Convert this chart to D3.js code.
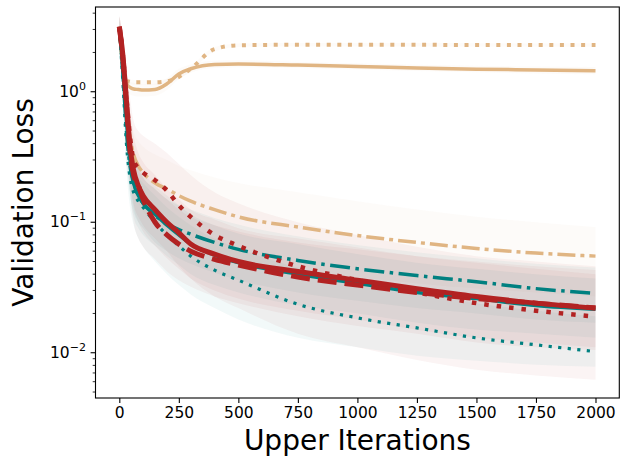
<!DOCTYPE html>
<html>
<head>
<meta charset="utf-8">
<script src="https://cdn.jsdelivr.net/npm/d3@7"></script>
<style>
  body { margin: 0; background: #fff; }
  svg { display: block; font-family: "DejaVu Sans", sans-serif; }
</style>
</head>
<body>
<svg id="chart" width="621" height="459"></svg>
<script>
// iterations where every curve is sampled
var iters = [0, 15, 30, 45, 60, 80, 100, 150, 200, 250, 300, 400, 500, 750, 1000, 1250, 1500, 1750, 2000];

// mean validation loss per run
var tanSolid   = [3.1, 1.6, 1.15, 1.08, 1.05, 1.04, 1.03, 1.04, 1.15, 1.37, 1.5, 1.62, 1.63, 1.6, 1.56, 1.52, 1.49, 1.47, 1.45];
var tanDotted  = [3.1, 1.7, 1.22, 1.19, 1.18, 1.18, 1.18, 1.18, 1.2, 1.3, 1.5, 2.12, 2.27, 2.29, 2.29, 2.29, 2.28, 2.28, 2.28];
var tanDashDot = [3.1, 1.5, 0.75, 0.45, 0.33, 0.27, 0.24, 0.2, 0.18, 0.16, 0.145, 0.125, 0.11, 0.092, 0.079, 0.07, 0.063, 0.058, 0.055];
var tealSolid  = [3.1, 1.5, 0.6, 0.3, 0.2, 0.16, 0.14, 0.115, 0.095, 0.08, 0.068, 0.056, 0.049, 0.04, 0.034, 0.029, 0.026, 0.023, 0.0215];
var tealDashDot= [3.1, 1.4, 0.5, 0.27, 0.2, 0.16, 0.14, 0.113, 0.097, 0.088, 0.081, 0.07, 0.062, 0.051, 0.044, 0.039, 0.035, 0.031, 0.0285];
var tealDotted = [3.1, 1.2, 0.4, 0.22, 0.17, 0.145, 0.13, 0.1, 0.08, 0.066, 0.055, 0.043, 0.036, 0.0235, 0.0185, 0.0155, 0.013, 0.0115, 0.0102];
var redSolid   = [3.15, 1.9, 0.85, 0.38, 0.25, 0.19, 0.16, 0.125, 0.1, 0.083, 0.068, 0.057, 0.05, 0.042, 0.036, 0.031, 0.027, 0.024, 0.022];
var redDotted  = [3.15, 1.9, 0.9, 0.45, 0.3, 0.26, 0.24, 0.21, 0.175, 0.135, 0.11, 0.08, 0.066, 0.046, 0.036, 0.029, 0.024, 0.021, 0.0189];
var redDashed  = [3.15, 1.8, 0.8, 0.35, 0.23, 0.19, 0.15, 0.1, 0.08, 0.068, 0.06, 0.052, 0.047, 0.038, 0.033, 0.029, 0.026, 0.024, 0.022];

// shaded spread (lower / upper) per run
var tanSolidLo   = [2.6, 1.3, 1.0, 0.95, 0.93, 0.92, 0.92, 0.93, 1.03, 1.25, 1.4, 1.52, 1.54, 1.52, 1.48, 1.44, 1.41, 1.38, 1.36];
var tanSolidHi   = [3.6, 1.9, 1.3, 1.2, 1.17, 1.15, 1.14, 1.15, 1.27, 1.5, 1.62, 1.73, 1.74, 1.69, 1.65, 1.61, 1.58, 1.56, 1.55];
var tanDottedLo  = [2.9, 1.6, 1.17, 1.14, 1.13, 1.13, 1.13, 1.13, 1.15, 1.25, 1.44, 2.03, 2.2, 2.22, 2.22, 2.22, 2.21, 2.21, 2.21];
var tanDottedHi  = [3.3, 1.8, 1.27, 1.24, 1.23, 1.23, 1.23, 1.23, 1.25, 1.35, 1.56, 2.2, 2.34, 2.36, 2.36, 2.36, 2.35, 2.35, 2.35];
var tanDashDotLo = [2.5, 1.0, 0.45, 0.25, 0.18, 0.14, 0.12, 0.1, 0.085, 0.075, 0.068, 0.058, 0.052, 0.043, 0.038, 0.034, 0.031, 0.029, 0.027];
var tanDashDotHi = [3.8, 2.0, 1.1, 0.7, 0.5, 0.42, 0.38, 0.33, 0.3, 0.27, 0.25, 0.22, 0.2, 0.17, 0.145, 0.125, 0.11, 0.1, 0.092];
var tealSolidLo  = [2.5, 1.0, 0.35, 0.17, 0.11, 0.09, 0.08, 0.066, 0.055, 0.047, 0.04, 0.033, 0.029, 0.023, 0.02, 0.017, 0.015, 0.014, 0.013];
var tealSolidHi  = [3.8, 2.1, 0.95, 0.5, 0.34, 0.27, 0.24, 0.19, 0.16, 0.135, 0.115, 0.095, 0.082, 0.068, 0.057, 0.049, 0.044, 0.04, 0.037];
var tealDashDotLo= [2.5, 0.9, 0.3, 0.16, 0.12, 0.1, 0.09, 0.07, 0.06, 0.053, 0.048, 0.041, 0.036, 0.029, 0.025, 0.022, 0.02, 0.018, 0.017];
var tealDashDotHi= [3.8, 2.0, 0.8, 0.42, 0.32, 0.26, 0.22, 0.18, 0.15, 0.135, 0.125, 0.108, 0.096, 0.078, 0.067, 0.059, 0.053, 0.048, 0.045];
var tealDottedLo = [2.5, 0.8, 0.25, 0.13, 0.095, 0.075, 0.065, 0.05, 0.04, 0.033, 0.028, 0.022, 0.018, 0.013, 0.011, 0.0095, 0.0087, 0.0081, 0.0078];
var tealDottedHi = [3.8, 1.8, 0.6, 0.33, 0.26, 0.22, 0.2, 0.16, 0.13, 0.11, 0.095, 0.075, 0.063, 0.045, 0.035, 0.029, 0.024, 0.021, 0.019];
var redSolidLo   = [2.6, 1.3, 0.5, 0.2, 0.13, 0.1, 0.085, 0.066, 0.053, 0.044, 0.037, 0.03, 0.026, 0.021, 0.018, 0.015, 0.013, 0.012, 0.011];
var redSolidHi   = [3.8, 2.7, 1.4, 0.7, 0.46, 0.34, 0.29, 0.23, 0.18, 0.15, 0.125, 0.105, 0.09, 0.075, 0.064, 0.055, 0.049, 0.044, 0.04];
var redDottedLo  = [2.6, 1.3, 0.5, 0.22, 0.14, 0.11, 0.095, 0.075, 0.06, 0.046, 0.037, 0.027, 0.022, 0.014, 0.011, 0.0088, 0.0074, 0.0067, 0.0062];
var redDottedHi  = [3.8, 2.7, 1.6, 0.9, 0.6, 0.5, 0.46, 0.4, 0.34, 0.28, 0.23, 0.17, 0.14, 0.1, 0.08, 0.065, 0.055, 0.05, 0.046];
var redDashedLo  = [2.6, 1.2, 0.45, 0.17, 0.1, 0.075, 0.065, 0.052, 0.042, 0.036, 0.032, 0.027, 0.024, 0.019, 0.016, 0.014, 0.012, 0.011, 0.0105];
var redDashedHi  = [3.8, 2.6, 1.3, 0.65, 0.38, 0.26, 0.22, 0.18, 0.15, 0.125, 0.11, 0.095, 0.085, 0.07, 0.062, 0.055, 0.05, 0.046, 0.043];

var xTicks = [0, 250, 500, 750, 1000, 1250, 1500, 1750, 2000];
var yTicks = [0.01, 0.1, 1];
var yTickExp = ["\u22122", "\u22121", "0"];

var tan = "#e0b583", teal = "#008080", red = "#b22222";

// draw order: bands, then lines (red on top)
var runs = [
    {v: tanSolid,    lo: tanSolidLo,    hi: tanSolidHi,    color: tan,  width: 3.5, dash: null},
    {v: tanDotted,   lo: tanDottedLo,   hi: tanDottedHi,   color: tan,  width: 4,   dash: "4,6.6"},
    {v: tanDashDot,  lo: tanDashDotLo,  hi: tanDashDotHi,  color: tan,  width: 3.5, dash: "18,5,4,5"},
    {v: tealSolid,   lo: tealSolidLo,   hi: tealSolidHi,   color: teal, width: 3.5, dash: null},
    {v: tealDashDot, lo: tealDashDotLo, hi: tealDashDotHi, color: teal, width: 3.5, dash: "20,5.5,3.5,5.5"},
    {v: tealDotted,  lo: tealDottedLo,  hi: tealDottedHi,  color: teal, width: 3.2, dash: "3.2,6.4"},
    {v: redDashed,   lo: redDashedLo,   hi: redDashedHi,   color: red,  width: 5,   dash: "19,8"},
    {v: redDotted,   lo: redDottedLo,   hi: redDottedHi,   color: red,  width: 4.5, dash: "4.5,8"},
    {v: redSolid,    lo: redSolidLo,    hi: redSolidHi,    color: red,  width: 5,   dash: null}
];

var axL = 95.5, axR = 619.3, axT = 7, axB = 398;

var svg = d3.select("#chart");

var x = d3.scaleLinear().domain([-100, 2100]).range([axL, axR]);
var y = d3.scaleLog().domain([0.0045, 4.46]).range([axB, axT]);

svg.append("clipPath").attr("id", "clip")
    .append("rect")
    .attr("x", axL).attr("y", axT)
    .attr("width", axR - axL).attr("height", axB - axT);

var plot = svg.append("g").attr("clip-path", "url(#clip)");

var area = d3.area()
    .x(function(d) { return x(d.it); })
    .y0(function(d) { return y(d.lo); })
    .y1(function(d) { return y(d.hi); })
    .curve(d3.curveMonotoneX);

var line = d3.line()
    .x(function(d) { return x(d.it); })
    .y(function(d) { return y(d.v); })
    .curve(d3.curveMonotoneX);

runs.forEach(function(r) {
    var pts = iters.map(function(it, i) { return {it: it, v: r.v[i], lo: r.lo[i], hi: r.hi[i]}; });
    plot.append("path")
        .datum(pts)
        .attr("fill", r.color)
        .attr("fill-opacity", 0.05)
        .attr("stroke", "none")
        .attr("d", area);
});

runs.forEach(function(r) {
    var pts = iters.map(function(it, i) { return {it: it, v: r.v[i]}; });
    plot.append("path")
        .datum(pts)
        .attr("fill", "none")
        .attr("stroke", r.color)
        .attr("stroke-width", r.width)
        .attr("stroke-dasharray", r.dash)
        .attr("stroke-linejoin", "round")
        .attr("d", line);
});

// frame
svg.append("rect")
    .attr("x", axL).attr("y", axT)
    .attr("width", axR - axL).attr("height", axB - axT)
    .attr("fill", "none").attr("stroke", "#000").attr("stroke-width", 1.1);

// x axis
var xAxis = svg.append("g")
    .attr("transform", "translate(0," + axB + ")")
    .call(d3.axisBottom(x).tickValues(xTicks).tickSize(4.9).tickPadding(4.5).tickFormat(d3.format("d")));
xAxis.select(".domain").remove();
xAxis.selectAll("line").attr("stroke-width", 1.1);
xAxis.selectAll("text").attr("font-size", 15.5).attr("font-family", "DejaVu Sans").attr("fill", "#000");

// y axis: minor ticks
var minor = [];
[0.001, 0.01, 0.1, 1].forEach(function(dec) {
    for (var k = 2; k <= 9; k++) {
        var v = dec * k;
        if (v > 0.0045 && v < 4.46) minor.push(v);
    }
});
svg.append("g").selectAll("line")
    .data(minor).enter().append("line")
    .attr("x1", axL - 2.8).attr("x2", axL)
    .attr("y1", function(d) { return y(d); })
    .attr("y2", function(d) { return y(d); })
    .attr("stroke", "#000").attr("stroke-width", 0.8);

var yMajor = svg.append("g").selectAll("g")
    .data(yTicks).enter().append("g")
    .attr("transform", function(d) { return "translate(0," + y(d) + ")"; });
yMajor.append("line")
    .attr("x1", axL - 4.9).attr("x2", axL)
    .attr("stroke", "#000").attr("stroke-width", 1.1);
var yLab = yMajor.append("text")
    .attr("x", axL - 9.6)
    .attr("y", 5)
    .attr("text-anchor", "end")
    .attr("font-size", 15.5)
    .attr("fill", "#000");
yLab.append("tspan").text("10");
yLab.append("tspan")
    .attr("dy", -7)
    .attr("font-size", 11)
    .text(function(d, i) { return yTickExp[i]; });

// axis titles
svg.append("text")
    .attr("x", (axL + axR) / 2)
    .attr("y", 450)
    .attr("text-anchor", "middle")
    .attr("font-size", 28)
    .attr("fill", "#000")
    .text("Upper Iterations");

svg.append("text")
    .attr("transform", "translate(33," + ((axT + axB) / 2) + ") rotate(-90)")
    .attr("text-anchor", "middle")
    .attr("font-size", 28)
    .attr("fill", "#000")
    .text("Validation Loss");
</script>
</body>
</html>
